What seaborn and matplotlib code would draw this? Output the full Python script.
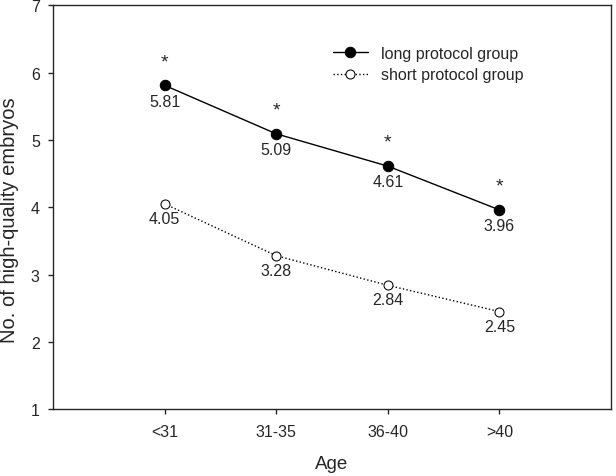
import pandas as pd
import seaborn as sns
import matplotlib.pyplot as plt

# values
ages = ['<31', '31-35', '36-40', '>40']
long_group = [5.81, 5.09, 4.61, 3.96]
short_group = [4.05, 3.28, 2.84, 2.45]

sns.set_style('ticks')
plt.rcParams['font.family'] = ['Liberation Sans', 'DejaVu Sans']

df = pd.DataFrame({
    'pos': list(range(1, 5)) * 2,
    'value': long_group + short_group,
    'group': ['long protocol group'] * 4 + ['short protocol group'] * 4,
})

fig, ax = plt.subplots(figsize=(6.16, 4.77), dpi=100)

long_df = df[df['group'] == 'long protocol group']
short_df = df[df['group'] == 'short protocol group']
sns.lineplot(data=long_df, x='pos', y='value', ax=ax, color='black', lw=1,
             marker='o', markersize=7.5, markerfacecolor='black',
             markeredgecolor='black', label='long protocol group')
sns.lineplot(data=short_df, x='pos', y='value', ax=ax, color='black', lw=1,
             linestyle=':', marker='o', markersize=6.5, markerfacecolor='white',
             markeredgecolor='black', label='short protocol group')

# value labels and significance stars
for x, v in zip(long_df['pos'], long_df['value']):
    ax.annotate(f'{v:.2f}', (x, v), xytext=(0, -6), textcoords='offset points',
                ha='center', va='top', fontsize=11.5)
    ax.annotate('*', (x, v), xytext=(0, 11), textcoords='offset points',
                ha='center', va='bottom', fontsize=14)
for x, v in zip(short_df['pos'], short_df['value']):
    ax.annotate(f'{v:.2f}', (x, v), xytext=(0, -5), textcoords='offset points',
                ha='center', va='top', fontsize=11.5)

ax.set_xlim(0, 5)
ax.set_ylim(1, 7)
ax.set_xticks(range(1, 5))
ax.set_xticklabels(ages)
ax.set_yticks(range(1, 8))
ax.tick_params(labelsize=11.5, direction='out', length=3.5, width=1)
ax.tick_params(axis='x', pad=7)
ax.tick_params(axis='y', pad=6)
ax.set_xlabel('Age', fontsize=13.5, labelpad=12)
ax.set_ylabel('No. of high-quality embryos', fontsize=14.5)
ax.yaxis.set_label_coords(-0.06, 0.47)
for s in ax.spines.values():
    s.set_linewidth(1)

ax.legend(loc='upper right', bbox_to_anchor=(0.868, 0.935), frameon=False,
          fontsize=11.5, handlelength=2.2, labelspacing=0.4)

plt.subplots_adjust(left=0.086, right=0.992, top=0.987, bottom=0.14)
plt.savefig('out.png', dpi=100)
